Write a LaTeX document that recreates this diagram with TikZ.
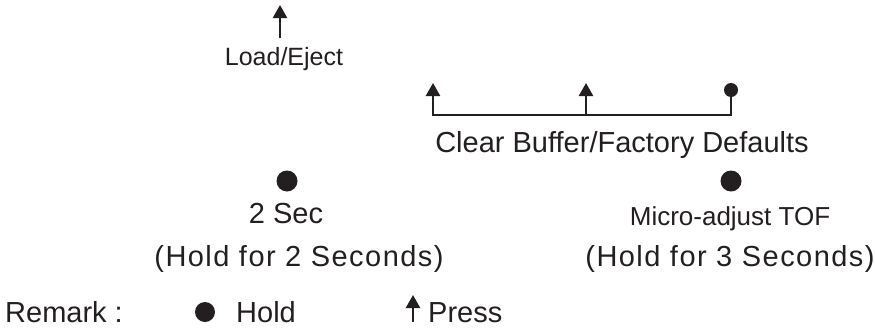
\documentclass[tikz,border=0pt]{standalone}
\usepackage{fontspec}
\setmainfont{Liberation Sans}
\newfontfamily\spacedfont{Liberation Sans}[LetterSpace=5]
\usetikzlibrary{arrows.meta,positioning}
\definecolor{ink}{RGB}{35,31,32}
\tikzset{
  >={Triangle[length=13pt,width=14pt]},
  press/.style={->,line width=2.4pt,draw=ink},
  hold/.style={circle,fill=ink,inner sep=0pt,minimum size=#1},
  hold/.default=21pt,
  lbl/.style={anchor=base,text=ink,inner sep=0pt,font=\fontsize{29}{34}\selectfont},
  small lbl/.style={lbl,font=\fontsize{#1}{30}\selectfont},
  small lbl/.default=25,
}

\begin{document}
\begin{tikzpicture}[x=1pt,y=-1pt]
  \useasboundingbox (0,0) rectangle (875,327);
  % load / eject key
  \node[small lbl] (load) at (284,65) {Load/Eject};
  \coordinate (loadbase) at (280,38);
  \coordinate (loadtip) at (280,5);
  \draw[press] (loadbase) -- (loadtip);
  % clear buffer: press, press, hold
  \node[hold=14pt] (cbdot) at (731,90) {};
  \coordinate (cbleft) at (433,83);
  \coordinate (cbbase) at (433,115);
  \coordinate (cbmid) at (586,83);
  \draw[press,<-] (cbleft) -- (cbbase) -| (cbdot);
  \draw[press] (cbbase -| cbmid) -- (cbmid);
  \node[lbl] (clear) at (622,152) {Clear Buffer/Factory Defaults};
  % hold keys
  \node[hold] (dot2) at (287,181) {};
  \node[lbl] (sec2) at (286,223) {2 Sec};
  \node[lbl,font=\fontsize{29}{34}\spacedfont] (hold2) at (299,266) {(Hold for 2 Seconds)};
  \node[hold] (dot3) at (731,181) {};
  \node[small lbl=26] (tof) at (730,225) {Micro-adjust TOF};
  \node[lbl,font=\fontsize{29}{34}\spacedfont] (hold3) at (730,266) {(Hold for 3 Seconds)};
  % remark
  \node[lbl,anchor=base west] (remark) at (5,322) {Remark :};
  \node[hold=20pt] (holdkey) at (205,312) {};
  \node[lbl,anchor=base west] (holdtxt) at (236,322) {Hold};
  \coordinate (pressbase) at (413,322);
  \coordinate (presstip) at (413,295);
  \draw[press] (pressbase) -- (presstip);
  \node[lbl,anchor=base west] (presstxt) at (428,322) {Press};
\end{tikzpicture}
\end{document}
